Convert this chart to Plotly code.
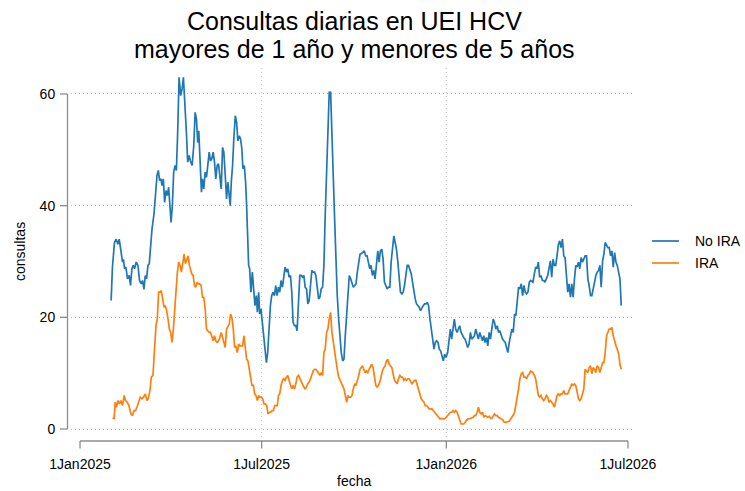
import pandas as pd
import plotly.graph_objects as go

# ---- data ----
# days since 1 Jan 2025, and daily consultations
dias_no_ira = [31, 32.3, 34.3, 36, 37.7, 39, 40.7, 42.3, 43.3, 44.3, 45.7, 47.3, 49, 50.3, 51.7, 53, 54.3, 56, 57.7, 59.3,
               61, 62.3, 63.7, 65, 66.3, 67.7, 69, 70.3, 71.7, 73.7, 75.3, 76.7, 78, 79.3, 80.7, 81.7, 83, 84.3, 85.7, 87,
               88.3, 89.7, 90.7, 92, 93.3, 94.7, 96, 97.3, 98.7, 100.3, 101.7, 103, 104.3, 106, 107.3, 108.7, 110,
               111.7, 113.3, 114.7, 116, 117.3, 118.3, 119.7, 121, 122, 123.3, 124.7, 126, 127.3, 128.7, 130, 131.3,
               132.7, 134, 135.3, 136.7, 138, 139.3, 140.7, 142, 143.3, 144.7, 146, 147.3, 148.7, 149.7, 150.7, 152,
               153.3, 154.7, 156, 157.3, 158.7, 160, 161.3, 162.3, 163.7, 165, 166, 167, 168, 169, 170.3, 171.7, 173,
               174.3, 175.7, 176.7, 178, 179, 180.3, 181.7, 183, 184.3, 185.7, 187, 188.3, 189.7, 191, 192.3, 193.7,
               195, 196.3, 197.7, 199, 200.3, 201.7, 203, 204.3, 205.7, 207, 208.3, 209.7, 211, 212.3, 213.7, 215,
               216.3, 217.7, 219, 220.3, 221.7, 223, 224.3, 225.7, 227, 228.3, 229.7, 231, 232.3, 233.7, 235, 236.3,
               237.7, 239, 240.3, 241.7, 243, 244.3, 245.7, 247, 248.3, 249.7, 251, 252.3, 253.7, 255, 256.3, 257.7,
               259, 260.3, 261.7, 263, 264.3, 265.7, 267, 268.3, 269.7, 271, 272.3, 273.7, 275, 276.3, 277.7, 279,
               281.7, 283.3, 284.7, 286, 287.3, 288.7, 290, 291.3, 292.7, 294, 295.3, 296.7, 298, 299.3, 300.7, 302,
               303.3, 304.7, 306, 307.3, 308.7, 310, 311.3, 312.7, 314, 315.3, 316.7, 318, 319.3, 320.7, 322, 323.3,
               324.7, 326, 327.3, 328.7, 330, 331.3, 332.7, 334, 335.3, 336.7, 338, 339.3, 340.7, 342, 343.3, 344.7,
               346, 347.3, 348.7, 350, 351.3, 352.7, 354, 355.3, 356.7, 358, 359.3, 360.7, 362, 363.3, 364.7,
               366.3, 367.7, 369, 370.3, 371.7, 373, 374.3, 375.7, 377, 378.3, 379.7, 381, 382.3, 383.7, 385, 386.3,
               387.7, 389, 390.3, 391.7, 393, 394.3, 395.7, 397, 398.3, 399.7, 401, 402.3, 403.7, 405, 406.3, 407.7,
               409, 410.3, 411.7, 413, 414.3, 415.7, 417, 418.3, 419.7, 421, 422.3, 423.7, 425, 426.3, 427.7, 429,
               430.3, 431.7, 433, 434.3, 435.7, 437, 438.3, 439.7, 441, 442.3, 443.7, 445, 446.3, 447.7, 449,
               451.3, 452.7, 454, 455.3, 456.7, 458, 459.3, 460.7, 462, 463.3, 464.7, 466, 467.3, 468.7, 470, 471.3,
               472.7, 474, 475.3, 476.7, 478, 479.3, 480.7, 482, 483.3, 484.7, 486, 487.3, 488.7, 490, 491.3, 492.7,
               494, 495.3, 496.7, 498, 499.3, 500.7, 502, 503.3, 504.7, 506, 507.3, 508.7, 510, 511.3, 512.7, 514,
               515.3, 516.7, 518, 519.3, 520.7, 522, 523.3, 524.7, 526, 527.3, 528.7, 530, 531.3, 532.7, 534, 535.3,
               536.7, 538, 539.3]
no_ira = [23, 29, 33.4, 34, 33.1, 34, 32, 29.9, 30.4, 28.7, 29, 26.9, 27.5, 25.7, 28.7, 29.3, 28.7, 29.9, 29.3, 26.6,
          26, 26.6, 25, 27.5, 26.9, 29.3, 29.6, 32.5, 35.8, 38.5, 41.5, 45.4, 46.3, 44.5, 44.8, 43.6, 44.8, 40.6, 42.7, 41.8,
          43.3, 40, 37, 40, 46, 47.2, 46.3, 53.1, 63, 59.7, 60.9, 63, 59.1, 53.1, 47.8, 49, 48,
          47.2, 50.7, 56.7, 55.5, 51.3, 53.4, 48.4, 42.4, 44.8, 43, 46, 45.1, 47.2, 49.6, 48, 48.4,
          49.6, 47.8, 44.8, 47.2, 47.5, 45.4, 43, 50.4, 49.6, 45.4, 41.2, 44.2, 41.2, 40, 44.2, 47.2,
          52.2, 56.1, 54.9, 51.6, 52.5, 51.9, 50.1, 46.6, 47.2, 44.2, 40, 35.2, 29.3, 28.7, 24.5, 28.1, 25.7,
          22.1, 23.9, 20.9, 24.5, 20.6, 21.5, 18.8, 17.3, 14.9, 11.9, 13.7, 17.9, 22.1, 23.9, 24.5, 23.9,
          25.7, 23.9, 25.4, 24.5, 26.6, 25.4, 26.9, 29, 28.1, 28.7, 27.2, 27.5, 24.5, 19.1, 18.5, 18.5,
          17.6, 22.7, 27.5, 27.5, 27.2, 27.5, 25.4, 25.1, 22.4, 23, 25.4, 28.4, 28.1, 28.1, 27.5, 25.7,
          23.3, 23.6, 25.1, 25.4, 29.3, 38.2, 47.2, 54.3, 60.3, 60.3, 54.3, 45.4, 37.6, 29.3, 23.9, 19.7,
          16.7, 13.7, 12.2, 12.5, 16.7, 20.9, 24.5, 27.5, 26.9, 26, 25.4, 25.7, 26, 28.1, 30.4, 31.3,
          31.6, 31.9, 31, 31, 29.9, 28.7, 29.3, 27.5, 28.4, 26.9, 29.3, 31.9, 29.9, 31.9, 32.2, 30.4,
          26.3, 25.7, 25.1, 25.4, 25.4, 29.9, 32.5, 34.6, 33.4, 32.2, 29.9, 26.9, 24.5, 24.2, 24.5, 25.7,
          28.1, 29.3, 29.3, 28.7, 27.8, 26.3, 24.5, 23.3, 22.4, 22.1, 21.8, 21.2, 21.8, 22.1, 22.4, 22.4,
          22.7, 22.1, 19.7, 17.9, 15.5, 14.3, 15.5, 15.8, 15.5, 14.3, 14, 13.1, 12.2, 13.4, 12.8,
          13.7, 16.7, 17.9, 16.1, 18.5, 19.7, 17.9, 17.3, 17.9, 18.5, 17.3, 16.7, 16.4, 16.1, 15.2, 14.6,
          15.2, 17.3, 16.1, 16.4, 16.7, 17.9, 16.7, 16.1, 17.3, 16.4, 15.8, 16.7, 15.5, 16.4, 14.9, 17.3,
          16.1, 17.9, 19.7, 19.1, 17.9, 18.5, 17.3, 17.6, 16.7, 16.1, 15.8, 15.5, 14.6, 13.7, 15.5, 16.7,
          17.9, 17.3, 20.6, 20.3, 23.9, 25.4, 25.1, 26, 23.9, 25.7, 24.5, 24.2, 24.5, 26.3, 26.6,
          26.3, 27.8, 29, 28.7, 29.9, 27.2, 27.5, 26.6, 26.6, 26.3, 26.9, 27.5, 28.7, 30.1, 27.2, 30.4,
          29.3, 29.3, 31, 33.1, 33.7, 32.5, 34, 31, 30.7, 26.9, 24.5, 26, 23.6, 26, 23.6, 26.9,
          29.3, 29, 29.9, 28.7, 30.7, 29.9, 30.4, 31, 31, 26.9, 25.7, 23.9, 23.9, 25.1, 26.9, 27.5,
          28.1, 28.4, 29.3, 25.4, 30.1, 31.3, 33.4, 32.8, 32.5, 32.5, 31, 31.9, 29, 31.6, 29.9, 29.3,
          27.8, 26.9, 22.1]

dias_ira = [32.3, 34, 35, 36.3, 37.7, 39.3, 40.7, 42.3, 44, 45.3, 47, 48.7, 50.7, 52.3, 53.7, 55.3, 56.7, 58.3, 60, 61.7,
            63.3, 65, 66.7, 68, 69.7, 71, 72.7, 74, 75.7, 77, 78.3, 79.7, 81, 82.3, 83.7, 85, 86.3, 87.7, 89, 90.3,
            91.7, 93, 94.3, 95.7, 97, 98.3, 99.7, 101, 102.3, 103.7, 105, 106.3, 107.7, 109, 110.3,
            111.3, 112.7, 114, 115.3, 116.7, 118, 119.3, 120.7, 122, 123.3, 124.7, 126, 127.3, 128.7, 130, 131.3,
            132.7, 134, 135.3, 136.7, 138, 139.3, 140.7, 142, 143.3, 144.7, 146, 147.3, 148.7, 150, 151.3, 152.7,
            154, 155.3, 156.7, 158, 159.3, 160.7, 162, 163.3, 164.7, 166, 167.3, 168.7, 170, 171.3, 172.7, 174,
            175.3, 176.7, 178, 179.3, 180.7, 182, 183.3, 184.7, 186, 187.3, 188.7, 190, 191.3, 192.7, 194,
            196.5, 197.7, 199, 200.3, 201.7, 203, 204.3, 205.7, 207, 208.3, 209.7, 211, 212.3, 213.7, 215, 216.3,
            217.7, 219, 220.3, 221.7, 223, 224.3, 225.7, 227, 228.3, 229.7, 231, 232.3, 233.7, 235, 236.3, 237.7,
            239, 240.3, 241.7, 243, 244.3, 245.7, 247, 248.3, 249.7, 251, 252.3, 253.7, 255, 256.3, 257.7, 259,
            260.3, 261.7, 263, 264.3, 265.7, 267, 268.3, 269.7, 271, 272.3, 273.7, 275, 276.3, 277.7, 279,
            281.3, 282.7, 284, 285.3, 286.7, 288, 289.3, 290.7, 292, 293.3, 294.7, 296, 297.3, 298.7, 300, 301.3,
            302.7, 304, 305.3, 306.7, 308, 309.3, 310.7, 312, 313.3, 314.7, 316, 317.3, 318.7, 320, 321.3, 322.7,
            324, 325.3, 326.7, 328, 329.3, 330.7, 332, 333.3, 334.7, 336, 337.3, 338.7, 340, 341.3, 342.7, 344,
            345.3, 346.7, 348, 349.3, 350.7, 352, 353.3, 354.7, 356, 357.3, 358.7, 360, 361.3, 362.7, 364,
            365, 366.3, 367.7, 369, 370.3, 371.7, 373, 374.3, 375.7, 377, 378.3, 379.7, 381, 382.3, 383.7, 385,
            386.3, 387.7, 389, 390.3, 391.7, 393, 394.3, 395.7, 397, 398.3, 399.7, 401, 402.3, 403.7, 405, 406.3,
            407.7, 409, 410.3, 411.7, 413, 414.3, 415.7, 417, 418.3, 419.7, 421, 422.3, 423.7, 425, 426.3, 427.7,
            429, 430.3, 431.7, 433, 434.3, 435.7, 437, 438.3, 439.7, 441, 442.3, 443.7, 445, 446.3, 447.7, 449,
            451.3, 452.7, 454, 455.3, 456.7, 458, 459.3, 460.7, 462, 463.3, 464.7, 466, 467.3, 468.7, 470, 471.3,
            472.7, 474, 475.3, 476.7, 478, 479.3, 480.7, 482, 483.3, 484.7, 486, 487.3, 488.7, 490, 491.3, 492.7,
            494, 495.3, 496.7, 498, 499.3, 500.7, 502, 503.3, 504.7, 506, 507.3, 508.7, 510, 511.3, 512.7, 514,
            515.3, 516.7, 518, 519.3, 520.7, 522, 523.3, 524.7, 526, 527.3, 528.7, 530, 531.3, 532.7, 534, 535.3,
            536.7, 538, 539.3]
ira = [1.9, 1.9, 4.8, 3.9, 5.1, 4.5, 5.1, 4.2, 6, 5.1, 4.8, 4.2, 2.7, 2.4, 3.3, 3.3, 3.9, 4.8, 5.7, 5.4,
       5.7, 6.3, 5.1, 5.4, 6.9, 9.3, 9.6, 13.7, 18.5, 19.7, 24.5, 24.5, 24.8, 23.3, 21.8, 22.1, 21.2, 19.7, 17.9, 17.3,
       15.5, 17.9, 20.9, 25.7, 28.1, 29.9, 29.3, 28.1, 29.9, 31.3, 29.6, 30.4, 31, 29.3, 28.5,
       27.8, 27.5, 25.7, 25.4, 26.3, 26, 26, 25.7, 23.6, 23.6, 21.5, 17.9, 17.6, 17.3, 17.3, 16.4,
       15.8, 16.7, 15.8, 15.5, 15.8, 16.4, 17.3, 16.4, 15.5, 14.6, 17.9, 18.5, 18.8, 20.6, 20, 17.9,
       14.6, 14.9, 13.7, 15.2, 14.9, 14.9, 14.9, 16.7, 14.9, 12.5, 12.2, 10.7, 9.6, 7.8, 7.8, 6.3,
       6, 5.1, 6, 5.7, 5.7, 5.4, 4.5, 4.5, 4.2, 2.7, 3, 3, 3.3, 3.3, 4.2,
       4.2, 6, 6.3, 7.8, 8.7, 9, 8.7, 9.3, 9.6, 8.7, 7.8, 7.2, 7.8, 7.2, 8.1, 9.3,
       9.6, 9, 8.4, 8.1, 7.5, 7.2, 7.5, 8.1, 8.4, 9, 9.9, 10.4, 10.7, 10.7, 10.4, 9.9,
       9.6, 10.1, 9.6, 13.7, 14.3, 17.3, 17.9, 19.7, 20.9, 17.3, 15.5, 13.4, 11.6, 10.7, 9.3, 8.7,
       8.4, 7.8, 7.2, 6, 4.8, 6, 5.7, 5.7, 6, 7.2, 8.1, 7.8, 9, 9.6, 10.7,
       11.3, 10.7, 10.1, 10.4, 10.1, 10.7, 11.3, 11.6, 11, 9.3, 7.8, 7.5, 7.8, 8.4, 9.6, 10.4,
       11, 11.3, 12.2, 12.5, 11.6, 11.3, 11, 9.9, 8.7, 8.4, 8.1, 9, 9.6, 9.3, 9.3, 8.7,
       9, 8.7, 9, 9, 8.4, 8.1, 8.4, 8.7, 8.7, 7.8, 7.2, 6.3, 5.4, 5.1, 4.8, 4.2,
       4.2, 3.9, 3.6, 3.6, 3.6, 3.3, 3, 2.7, 2.4, 2.1, 1.8, 1.9, 1.8, 1.8, 1.9,
       2.1, 2.4, 2.7, 3, 3, 3.3, 3, 3.3, 3, 2.4, 1.8, 0.9, 0.9, 0.9, 1.2, 1.5,
       1.8, 1.8, 1.9, 2.1, 2.1, 2.4, 2.4, 3, 3.9, 3, 2.7, 3, 2.1, 2.4, 2.3, 2.1,
       2.3, 1.9, 1.9, 2.4, 2.7, 2.4, 2.4, 2.1, 1.9, 1.8, 1.7, 1.3, 1.2, 1.2, 1.3, 1.4,
       1.7, 2.1, 2.5, 3, 4.2, 5.7, 7.2, 9, 9.9, 10.1, 9.3, 9.3, 9, 9.6, 9.9, 10.4,
       10.1, 9.6, 9, 7.5, 6, 5.7, 6, 5.4, 5.1, 5.4, 6, 5.7, 4.8, 5.1, 4.8, 4.5,
       3.9, 5.1, 6, 6.3, 6, 6.3, 6.3, 6.9, 6.3, 6.3, 6.3, 6.9, 7.5, 8.1, 7.8, 8.1,
       7.8, 6.9, 5.4, 5.1, 5.4, 6.3, 7.2, 10.7, 10.4, 10.1, 11, 11.3, 9.9, 11, 10.7, 10.1,
       11.3, 11, 10.1, 11.3, 11.9, 11.9, 13.7, 16.7, 17.3, 17.9, 17.9, 18.2, 16.7, 15.5, 14.9, 14.3,
       13.4, 11.6, 10.7]

series_names = ["No IRA", "IRA"]
series_colors = ["#1f77b4", "#ff7f0e"]
y_ticks = [0, 20, 40, 60]
x_ticks = ["2025-01-01", "2025-07-01", "2026-01-01", "2026-07-01"]
x_tick_labels = ["1Jan2025", "1Jul2025", "1Jan2026", "1Jul2026"]
x_grid = ["2025-07-01", "2026-01-01"]

base = pd.Timestamp("2025-01-01")
fecha_no_ira = base + pd.to_timedelta(dias_no_ira, unit="D")
fecha_ira = base + pd.to_timedelta(dias_ira, unit="D")

FONT = "Liberation Sans, Arial, sans-serif"
W, H = 745, 491
ML, MR, MT, MB = 71, 110, 65, 54
PW = W - ML - MR
PH = H - MT - MB


def px_x(x):  # absolute pixel x -> paper
    return (x - ML) / PW


def px_y(y):  # absolute pixel y (from top) -> paper
    return (H - MB - y) / PH


fig = go.Figure()
fig.add_trace(go.Scatter(x=fecha_no_ira, y=no_ira, mode="lines", name=series_names[0],
                         line=dict(color=series_colors[0], width=1.7), showlegend=False))
fig.add_trace(go.Scatter(x=fecha_ira, y=ira, mode="lines", name=series_names[1],
                         line=dict(color=series_colors[1], width=1.7), showlegend=False))

axis_col = "#8c8c8c"
grid_col = "#bdbdbd"
grid_dash = "1px,3px"
shapes = []
# vertical grid lines
for g in x_grid:
    shapes.append(dict(type="line", xref="x", yref="paper", x0=g, x1=g, y0=0, y1=1,
                       line=dict(color=grid_col, width=1, dash=grid_dash), layer="below"))
# y axis line and ticks
shapes.append(dict(type="line", xref="paper", yref="y", x0=px_x(67.5), x1=px_x(67.5),
                   y0=y_ticks[0], y1=y_ticks[-1], line=dict(color=axis_col, width=1.3)))
for t in y_ticks:
    shapes.append(dict(type="line", xref="paper", yref="y", x0=px_x(60), x1=px_x(67.5),
                       y0=t, y1=t, line=dict(color=axis_col, width=1.3)))
# x axis line and ticks
shapes.append(dict(type="line", xref="x", yref="paper", x0=x_ticks[0], x1=x_ticks[-1],
                   y0=px_y(441), y1=px_y(441), line=dict(color=axis_col, width=1.3)))
for t in x_ticks:
    shapes.append(dict(type="line", xref="x", yref="paper", x0=t, x1=t,
                       y0=px_y(441), y1=px_y(448.5), line=dict(color=axis_col, width=1.3)))
# legend samples
legend_y = [241, 263]
for name, col, ly in zip(series_names, series_colors, legend_y):
    shapes.append(dict(type="line", xref="paper", yref="paper", x0=px_x(652), x1=px_x(679),
                       y0=px_y(ly), y1=px_y(ly), line=dict(color=col, width=1.7)))

annotations = [
    dict(text="Consultas diarias en UEI HCV", xref="paper", yref="paper",
         x=px_x(354), y=px_y(20.5), xanchor="center", yanchor="middle",
         showarrow=False, font=dict(size=25, color="black", family=FONT)),
    dict(text="mayores de 1 año y menores de 5 años", xref="paper", yref="paper",
         x=px_x(354), y=px_y(49.5), xanchor="center", yanchor="middle",
         showarrow=False, font=dict(size=25, color="black", family=FONT)),
    dict(text="consultas", xref="paper", yref="paper", x=px_x(20), y=px_y(252),
         xanchor="center", yanchor="middle", textangle=-90, showarrow=False,
         font=dict(size=14, color="black", family=FONT)),
    dict(text="fecha", xref="paper", yref="paper", x=px_x(353.5), y=px_y(481),
         xanchor="center", yanchor="middle", showarrow=False,
         font=dict(size=14, color="black", family=FONT)),
]
for name, ly in zip(series_names, legend_y):
    annotations.append(dict(text=name, xref="paper", yref="paper", x=px_x(693), y=px_y(ly),
                            xanchor="left", yanchor="middle", showarrow=False,
                            font=dict(size=14, color="black", family=FONT)))

fig.update_layout(
    width=W, height=H,
    margin=dict(l=ML, r=MR, t=MT, b=MB, pad=0),
    paper_bgcolor="white", plot_bgcolor="white",
    font=dict(family=FONT, size=14, color="black"),
    showlegend=False,
    shapes=shapes,
    annotations=annotations,
    xaxis=dict(range=["2024-12-23", "2026-07-08"], tickvals=x_ticks, ticktext=x_tick_labels,
               showgrid=False, zeroline=False, showline=False,
               ticks="outside", ticklen=14, tickcolor="rgba(0,0,0,0)",
               tickfont=dict(size=14, family=FONT, color="black")),
    yaxis=dict(range=[-1.43, 65.19], tickvals=y_ticks, showgrid=True, gridcolor=grid_col,
               griddash=grid_dash, gridwidth=1, zeroline=False, showline=False,
               ticks="outside", ticklen=12, tickcolor="rgba(0,0,0,0)",
               tickfont=dict(size=14, family=FONT, color="black")),
)

fig.write_html("out.html", config={"displayModeBar": False},
               post_script="document.body.style.margin='0px';")
